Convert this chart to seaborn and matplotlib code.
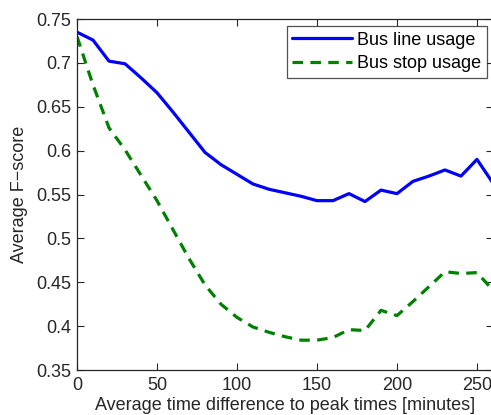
import matplotlib
matplotlib.use("Agg")
import matplotlib.pyplot as plt
import seaborn as sns
import pandas as pd

# Time offset to peak times (minutes)
minutes = [0, 10, 20, 30, 40, 50, 60, 70, 80, 90, 100, 110, 120, 130,
           140, 150, 160, 170, 180, 190, 200, 210, 220, 230, 240, 250, 260]

# Average F-score per feature set
bus_line_usage = [0.735, 0.726, 0.702, 0.699, 0.683, 0.666, 0.644, 0.621,
                  0.598, 0.584, 0.573, 0.562, 0.556, 0.552, 0.548, 0.543,
                  0.543, 0.551, 0.542, 0.555, 0.551, 0.565, 0.571, 0.578,
                  0.571, 0.590, 0.563]
bus_stop_usage = [0.730, 0.675, 0.626, 0.601, 0.572, 0.543, 0.510, 0.477,
                  0.447, 0.425, 0.410, 0.399, 0.393, 0.388, 0.384, 0.384,
                  0.387, 0.396, 0.395, 0.418, 0.412, 0.428, 0.445, 0.462,
                  0.460, 0.461, 0.441]

series_names = ["Bus line usage", "Bus stop usage"]

df = pd.concat([
    pd.DataFrame({"minutes": minutes, "fscore": bus_line_usage, "series": series_names[0]}),
    pd.DataFrame({"minutes": minutes, "fscore": bus_stop_usage, "series": series_names[1]}),
], ignore_index=True)

sns.set_style("white")
plt.rcParams["font.family"] = ["Liberation Sans", "DejaVu Sans"]

fig = plt.figure(figsize=(4.91, 4.15), dpi=100)
ax = fig.add_axes([0.1568, 0.1084, 0.8472, 0.8458])

sns.lineplot(
    data=df, x="minutes", y="fscore", hue="series", style="series",
    palette={series_names[0]: "#0000ff", series_names[1]: "#008000"},
    dashes={series_names[0]: "", series_names[1]: (3.3, 2.3)},
    linewidth=2.3, ax=ax, legend=True,
)

ax.set_xlim(0, 260)
ax.set_ylim(0.35, 0.75)
ax.set_xticks([0, 50, 100, 150, 200, 250])
ax.set_yticks([0.35, 0.4, 0.45, 0.5, 0.55, 0.6, 0.65, 0.7, 0.75])
ax.set_yticklabels(["0.35", "0.4", "0.45", "0.5", "0.55", "0.6", "0.65", "0.7", "0.75"])

ax.tick_params(direction="in", length=5, width=0.8, colors="#262626",
               labelsize=13, bottom=True, left=True, top=True, right=True, pad=4)
ax.tick_params(axis="x", pad=5)
for sp in ax.spines.values():
    sp.set_color("#262626")
    sp.set_linewidth(0.9)

ax.set_xlabel("Average time difference to peak times [minutes]", fontsize=13, labelpad=2)
ax.set_ylabel("Average F\u2212score", fontsize=13, labelpad=6)

leg = ax.legend(loc="upper right", bbox_to_anchor=(0.9845, 0.979), fontsize=13,
                frameon=True, fancybox=False, handlelength=3.3, handletextpad=0.3,
                borderpad=0.3, labelspacing=0.35, borderaxespad=0.0)
leg.get_frame().set_edgecolor("#262626")
leg.get_frame().set_linewidth(0.9)
for t in leg.get_texts():
    t.set_color("black")

fig.savefig("out.png", dpi=100)
